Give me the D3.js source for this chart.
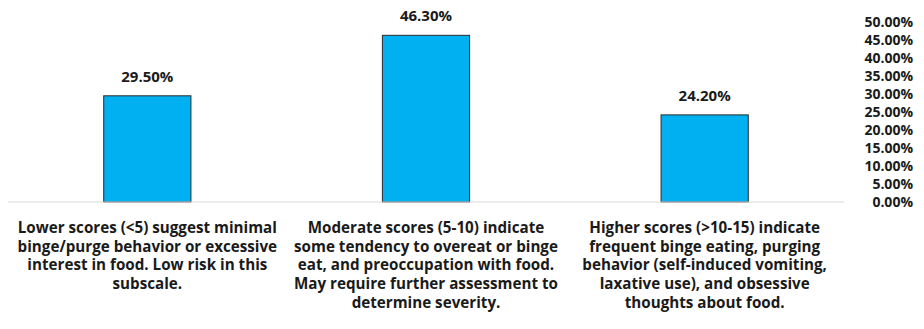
<!DOCTYPE html>
<html>
<head>
<meta charset="utf-8">
<script src="https://cdn.jsdelivr.net/npm/d3@7"></script>
<style>
  html, body { margin: 0; padding: 0; background: #fff; }
  svg text { font-family: "Open Sans", Lato, sans-serif; font-weight: bold; fill: #1a1a1a; }
</style>
</head>
<body>
<div id="chart"></div>
<script>
// ── Data ──────────────────────────────────────────────────────────────────────
const categories = ['low', 'moderate', 'high'];
const values = [29.5, 46.3, 24.2];
const categoryLines = [
  ['Lower scores (<5) suggest minimal', 'binge/purge behavior or excessive', 'interest in food. Low risk in this', 'subscale.'],
  ['Moderate scores (5-10) indicate', 'some tendency to overeat or binge', 'eat, and preoccupation with food.', 'May require further assessment to', 'determine severity.'],
  ['Higher scores (>10-15) indicate', 'frequent binge eating, purging', 'behavior (self-induced vomiting,', 'laxative use), and obsessive', 'thoughts about food.']
];
const yTicks = [0, 5, 10, 15, 20, 25, 30, 35, 40, 45, 50];

// ── Layout ────────────────────────────────────────────────────────────────────
const W = 924, H = 329;
const M = { top: 22, right: 80, bottom: 127, left: 8 };
const iw = W - M.left - M.right;
const ih = H - M.top - M.bottom;

const svg = d3.select('#chart').append('svg').attr('width', W).attr('height', H);
const g = svg.append('g').attr('transform', `translate(${M.left},${M.top})`);

const x = d3.scaleBand().domain(categories).range([0, iw]).paddingInner(0.687).paddingOuter(0.3435);
const y = d3.scaleLinear().domain([0, 50]).range([ih, 0]);

// ── Y axis on the right (labels only) ─────────────────────────────────────────
g.append('g')
  .attr('transform', `translate(${iw + 69},0)`)
  .call(d3.axisRight(y).tickValues(yTicks).tickSize(0).tickPadding(0)
    .tickFormat(d => d.toFixed(2) + '%'))
  .call(a => a.select('.domain').remove())
  .call(a => a.selectAll('text').attr('text-anchor', 'end').attr('font-size', 14).attr('fill', '#1a1a1a'));

// ── Bars ──────────────────────────────────────────────────────────────────────
g.selectAll('rect.bar')
  .data(values)
  .join('rect')
  .attr('class', 'bar')
  .attr('x', (d, i) => x(categories[i]))
  .attr('y', d => y(d))
  .attr('width', x.bandwidth())
  .attr('height', d => y(0) - y(d))
  .attr('fill', '#00b0f0')
  .attr('stroke', '#2b2b2b')
  .attr('stroke-width', 1);

// Value labels
g.selectAll('text.val')
  .data(values)
  .join('text')
  .attr('class', 'val')
  .attr('x', (d, i) => x(categories[i]) + x.bandwidth() / 2)
  .attr('y', d => y(d) - 14)
  .attr('text-anchor', 'middle')
  .attr('font-size', 15)
  .text(d => d.toFixed(2) + '%');

// ── Baseline ──────────────────────────────────────────────────────────────────
g.append('line')
  .attr('x1', 0).attr('x2', iw)
  .attr('y1', y(0)).attr('y2', y(0))
  .attr('stroke', '#d9d9d9').attr('stroke-width', 1);

// ── Category labels ───────────────────────────────────────────────────────────
categoryLines.forEach((lines, i) => {
  const cx = x(categories[i]) + x.bandwidth() / 2;
  const t = g.append('text')
    .attr('x', cx)
    .attr('y', ih + 31)
    .attr('text-anchor', 'middle')
    .attr('font-size', 15.2);
  lines.forEach((ln, j) => {
    t.append('tspan').attr('x', cx).attr('dy', j === 0 ? 0 : 18.7).text(ln);
  });
});
</script>
</body>
</html>
